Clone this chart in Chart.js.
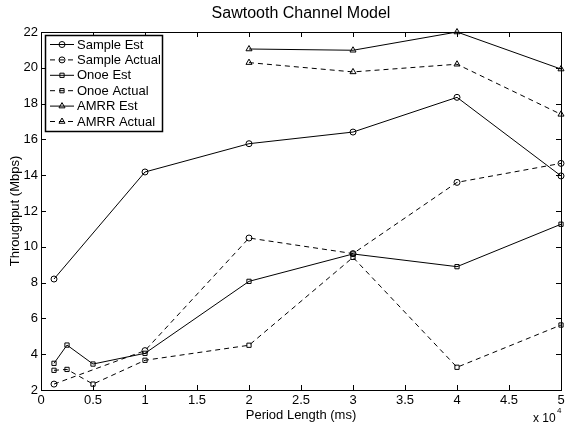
<!DOCTYPE html>
<html>
<head>
<meta charset="utf-8">
<script src="https://cdn.jsdelivr.net/npm/chart.js@4"></script>
<style>
  html, body { margin: 0; padding: 0; background: #fff; }
  #wrap { width: 571px; height: 429px; position: relative; }
</style>
</head>
<body>
<div id="wrap"><canvas id="sawChart" width="571" height="429"></canvas></div>
<script>
// period length (ms) for each series
const sampleX = [1250, 10000, 20000, 30000, 40000, 50000];
const onoeX = [1250, 2500, 5000, 10000, 20000, 30000, 40000, 50000];
const amrrX = [20000, 30000, 40000, 50000];

// throughput (Mbps)
const sampleEst = [8.2, 14.18, 15.76, 16.41, 18.35, 13.96];
const sampleActual = [2.33, 4.2, 10.49, 9.62, 13.6, 14.66];
const onoeEst = [3.49, 4.51, 3.45, 4.05, 8.07, 9.6, 8.89, 11.26];
const onoeActual = [3.1, 3.15, 2.33, 3.66, 4.5, 9.41, 3.27, 5.63];
const amrrEst = [21.05, 20.98, 22.0, 19.93];
const amrrActual = [20.29, 19.77, 20.2, 17.4];

const xTicks = [0, 5000, 10000, 15000, 20000, 25000, 30000, 35000, 40000, 45000, 50000];
const yTicks = [2, 4, 6, 8, 10, 12, 14, 16, 18, 20, 22];

const FONT = '"Liberation Sans", Arial, Helvetica, sans-serif';
const DASH = [5, 4];

function pts(xs, ys) {
    return xs.map((x, i) => ({ x: x, y: ys[i] }));
}

function series(label, xs, ys, style, dashed) {
    return {
        label: label,
        data: pts(xs, ys),
        borderColor: '#000',
        borderWidth: 1,
        borderDash: dashed ? DASH : [],
        pointStyle: style,
        pointRadius: style === 'triangle' ? 3.5 : 3,
        pointBorderColor: '#000',
        pointBackgroundColor: 'rgba(0,0,0,0)',
        pointBorderWidth: 1,
        showLine: true,
        tension: 0,
        fill: false
    };
}

// box, inward ticks, legend, title and exponent label
const matlabLook = {
    id: 'matlabLook',
    afterDraw(chart) {
        const ctx = chart.ctx;
        const a = chart.chartArea;
        const xs = chart.scales.x;
        const ys = chart.scales.y;
        ctx.save();
        ctx.strokeStyle = '#000';
        ctx.lineWidth = 1;
        ctx.setLineDash([]);
        ctx.strokeRect(Math.round(a.left) + 0.5, Math.round(a.top) + 0.5,
            Math.round(a.right - a.left), Math.round(a.bottom - a.top));
        const tl = 5;
        ctx.beginPath();
        xTicks.forEach(v => {
            const px = Math.round(xs.getPixelForValue(v)) + 0.5;
            ctx.moveTo(px, a.bottom); ctx.lineTo(px, a.bottom - tl);
            ctx.moveTo(px, a.top); ctx.lineTo(px, a.top + tl);
        });
        yTicks.forEach(v => {
            const py = Math.round(ys.getPixelForValue(v)) + 0.5;
            ctx.moveTo(a.left, py); ctx.lineTo(a.left + tl, py);
            ctx.moveTo(a.right, py); ctx.lineTo(a.right - tl, py);
        });
        ctx.stroke();

        // title
        ctx.fillStyle = '#000';
        ctx.font = '16px ' + FONT;
        ctx.textAlign = 'center';
        ctx.textBaseline = 'middle';
        ctx.fillText('Sawtooth Channel Model', (a.left + a.right) / 2, 14);

        // x 10^4
        ctx.font = '12px ' + FONT;
        ctx.textAlign = 'left';
        ctx.fillText('x 10', 533, 419);
        ctx.font = '8px ' + FONT;
        ctx.fillText('4', 557, 411);

        // legend
        const lx = 45, ly = 35, lw = 117, lh = 96;
        ctx.fillStyle = '#fff';
        ctx.fillRect(lx, ly, lw, lh);
        ctx.lineWidth = 1.5;
        ctx.strokeRect(lx + 0.5, ly + 0.5, lw, lh);
        ctx.lineWidth = 1;
        ctx.font = '13px ' + FONT;
        ctx.textBaseline = 'middle';
        chart.data.datasets.forEach((ds, i) => {
            const cy = 44.5 + i * 15.4;
            ctx.strokeStyle = '#000';
            ctx.setLineDash(ds.borderDash);
            ctx.beginPath();
            ctx.moveTo(50, cy);
            ctx.lineTo(74, cy);
            ctx.stroke();
            ctx.setLineDash([]);
            ctx.fillStyle = 'rgba(0,0,0,0)';
            Chart.helpers.drawPoint(ctx, {
                pointStyle: ds.pointStyle,
                radius: ds.pointRadius,
                rotation: 0,
                borderWidth: 1
            }, 62, cy);
            ctx.fillStyle = '#000';
            ctx.textAlign = 'left';
            ctx.fillText(ds.label, 77, cy + 0.5);
        });
        ctx.restore();
    }
};

const ctx = document.getElementById('sawChart');
new Chart(ctx.getContext('2d'), {
    type: 'scatter',
    data: {
        datasets: [
            series('Sample Est', sampleX, sampleEst, 'circle', false),
            series('Sample Actual', sampleX, sampleActual, 'circle', true),
            series('Onoe Est', onoeX, onoeEst, 'rect', false),
            series('Onoe Actual', onoeX, onoeActual, 'rect', true),
            series('AMRR Est', amrrX, amrrEst, 'triangle', false),
            series('AMRR Actual', amrrX, amrrActual, 'triangle', true)
        ]
    },
    options: {
        responsive: false,
        animation: false,
        clip: false,
        layout: { padding: { top: 32, right: 10, left: 0, bottom: 0 } },
        plugins: {
            legend: { display: false },
            tooltip: { enabled: false },
            title: { display: false }
        },
        scales: {
            x: {
                type: 'linear',
                min: 0,
                max: 50000,
                afterFit(scale) { scale.height = 39; },
                afterBuildTicks(scale) { scale.ticks = xTicks.map(v => ({ value: v })); },
                grid: { display: false, drawTicks: false },
                border: { display: false },
                ticks: {
                    padding: 3,
                    color: '#000',
                    font: { family: FONT, size: 13 },
                    maxRotation: 0,
                    callback: v => String(v / 10000)
                },
                title: {
                    display: true,
                    text: 'Period Length (ms)',
                    color: '#000',
                    font: { family: FONT, size: 13 },
                    padding: { top: 0, bottom: 6 }
                }
            },
            y: {
                type: 'linear',
                min: 2,
                max: 22,
                afterFit(scale) { scale.width = 41; },
                afterBuildTicks(scale) { scale.ticks = yTicks.map(v => ({ value: v })); },
                grid: { display: false, drawTicks: false },
                border: { display: false },
                ticks: {
                    padding: 3,
                    color: '#000',
                    font: { family: FONT, size: 13 },
                    callback: v => String(v)
                },
                title: {
                    display: true,
                    text: 'Throughput (Mbps)',
                    color: '#000',
                    font: { family: FONT, size: 13 },
                    padding: { top: 8, bottom: 0 }
                }
            }
        }
    },
    plugins: [matlabLook]
});
</script>
</body>
</html>
